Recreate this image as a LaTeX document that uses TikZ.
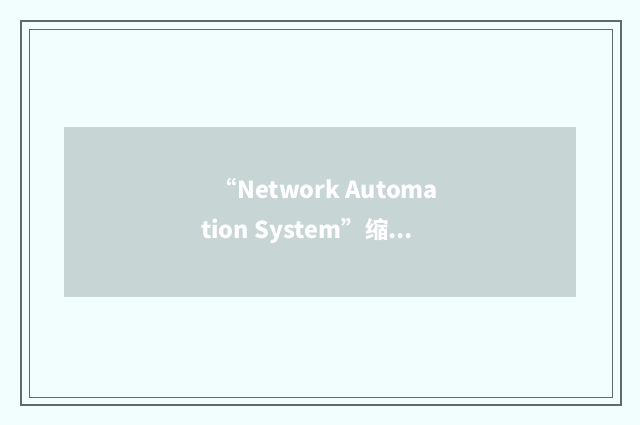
\documentclass[tikz,border=0pt]{standalone}
\usepackage{fontspec}
\newfontfamily\cjk{Noto Sans CJK SC}
\definecolor{bgcyan}{HTML}{F2FEFE}
\definecolor{framegray}{HTML}{5F6B6B}
\definecolor{boxgray}{HTML}{C8D5D5}
\begin{document}
\begin{tikzpicture}[x=0.75pt,y=-0.75pt,
  captext/.style={text=white,font=\cjk\bfseries\fontsize{17.5}{21}\selectfont,inner sep=0pt,anchor=base}]
\useasboundingbox (0,0) rectangle (640,425);
\fill[bgcyan] (0,0) rectangle (640,425);
% frames
\draw[framegray,line width=1.5pt] (21,21) rectangle (621,405);
\draw[framegray,line width=0.75pt] (29,29) rectangle (612,397);
% caption box
\fill[boxgray] (64,127) rectangle (576,297);
\node[captext] (line1) at (326,198) {“Network Automa};
\node[captext] (line2) at (307,238) {tion System”缩...};
\end{tikzpicture}
\end{document}
